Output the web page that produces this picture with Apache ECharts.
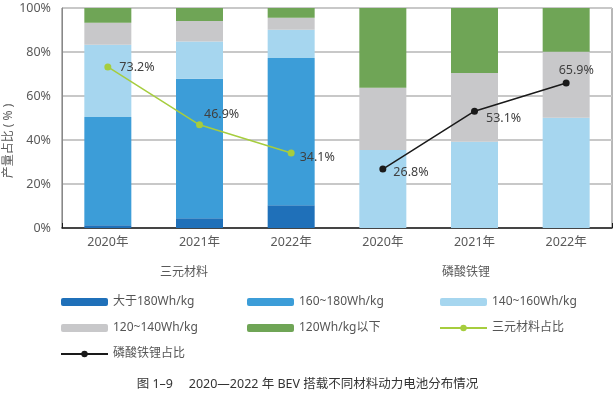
<!DOCTYPE html>
<html>
<head>
<meta charset="utf-8">
<script src="https://cdn.jsdelivr.net/npm/echarts@6/dist/echarts.min.js"></script>
<style>html,body{margin:0;padding:0;background:#fff;}#c{width:615px;height:395px;}</style>
</head>
<body>
<div id="c"></div>
<script>
var years = ['2020年', '2021年', '2022年'];
var categories = years.concat(years);
var groupNames = ['三元材料', '磷酸铁锂'];
var yTicks = ['0%', '20%', '40%', '60%', '80%', '100%'];
var seriesNames = ['大于180Wh/kg', '160~180Wh/kg', '140~160Wh/kg', '120~140Wh/kg', '120Wh/kg以下', '三元材料占比', '磷酸铁锂占比'];
var over180 = [1.2, 4.4, 10.3, 0, 0, 0];
var s160to180 = [49.3, 63.4, 67.0, 0, 0, 0];
var s140to160 = [32.8, 17.0, 12.8, 35.4, 39.2, 50.1];
var s120to140 = [10.0, 9.3, 5.5, 28.3, 31.3, 30.0];
var below120 = [6.7, 5.9, 4.4, 36.3, 29.5, 19.9];
var ncmShare = [73.2, 46.9, 34.1, '-', '-', '-'];
var lfpShare = ['-', '-', '-', 26.8, 53.1, 65.9];
var chartTitle = '图 1–9\u3000 2020—2022 年 BEV 搭载不同材料动力电池分布情况';
var yName = '产量占比 ( % )';

var FONT = '"Noto Sans", "Noto Sans CJK SC", sans-serif';
var colors = ['#1f70b9', '#3c9dd8', '#a6d6ef', '#c8c8ca', '#6fa556', '#a6cd3e', '#1a1a1a'];
var labelOffsets = [[8, 0], [1, -10], [5, 4], [7, 3], [8, 7], [-11, -13]];

function barSeries(i, data) {
  return {
    name: seriesNames[i], type: 'bar', stack: 'total', data: data,
    barWidth: 47, itemStyle: { color: colors[i] }
  };
}
function lineData(arr) {
  return arr.map(function (v, i) {
    if (v === '-') return '-';
    return { value: v, label: { offset: labelOffsets[i] } };
  });
}
function lineSeries(i, arr) {
  return {
    name: seriesNames[i], type: 'line', data: lineData(arr),
    symbol: 'circle', symbolSize: 7,
    lineStyle: { color: colors[i], width: 1.5 },
    itemStyle: { color: colors[i] },
    label: {
      show: true, position: 'right', distance: 0,
      formatter: '{c}%', fontFamily: FONT, fontSize: 12.5, color: '#404040'
    },
    z: 5
  };
}
function legend(left, names) {
  return {
    orient: 'vertical', left: left, top: 295, padding: 0, itemWidth: 47, itemHeight: 8,
    itemGap: 12, itemStyle: { borderWidth: 0 },
    textStyle: { fontFamily: FONT, fontSize: 12, color: '#555', lineHeight: 14 },
    data: names
  };
}

var chart = echarts.init(document.getElementById('c'), null, { renderer: 'canvas' });
chart.setOption({
  animation: false,
  grid: { left: 62, right: 3, top: 8, bottom: 167, show: true, borderColor: '#707070', borderWidth: 1 },
  xAxis: {
    type: 'category', data: categories,
    axisLine: { lineStyle: { color: '#1a1a1a', width: 1.5 } },
    axisTick: { show: true, inside: true, length: 5, interval: function (idx) { return idx === 3; }, lineStyle: { color: '#1a1a1a' } },
    axisLabel: { margin: 8, fontFamily: FONT, fontSize: 12.5, color: '#595959' }
  },
  yAxis: {
    type: 'value', min: 0, max: 100, interval: 20,
    axisLine: { show: true, lineStyle: { color: '#888', width: 1 } },
    axisTick: { show: false },
    axisLabel: { margin: 11, fontFamily: FONT, fontSize: 12.5, color: '#595959', formatter: function (v) { return yTicks[v / 20]; } },
    splitLine: { lineStyle: { color: '#c8c8c8', width: 2 } }
  },
  legend: [
    legend(60, [seriesNames[0], seriesNames[3], seriesNames[6]]),
    legend(247, [seriesNames[1], seriesNames[4]]),
    legend(439, [seriesNames[2], seriesNames[5]])
  ],
  graphic: [
    { type: 'text', left: 'center', top: 378, style: { text: chartTitle, font: '12.5px ' + FONT, fill: '#333' } },
    { type: 'text', x: 184, y: 273, style: { text: groupNames[0], font: '12px ' + FONT, fill: '#595959', align: 'center', verticalAlign: 'middle' } },
    { type: 'text', x: 466, y: 273, style: { text: groupNames[1], font: '12px ' + FONT, fill: '#595959', align: 'center', verticalAlign: 'middle' } },
    { type: 'text', x: 9, y: 141, rotation: Math.PI / 2, style: { text: yName, font: '12px ' + FONT, fill: '#595959', align: 'center', verticalAlign: 'middle' } }
  ],
  series: [
    barSeries(0, over180),
    barSeries(1, s160to180),
    barSeries(2, s140to160),
    barSeries(3, s120to140),
    barSeries(4, below120),
    lineSeries(5, ncmShare),
    lineSeries(6, lfpShare)
  ]
});
</script>
</body>
</html>
